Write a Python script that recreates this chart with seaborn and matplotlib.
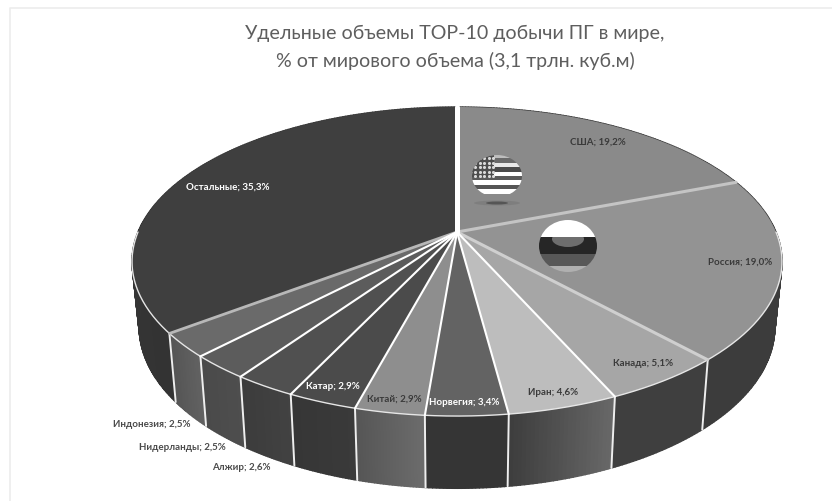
import numpy as np
import matplotlib
matplotlib.use("Agg")
import matplotlib.pyplot as plt
from matplotlib.patches import Ellipse, Rectangle
import seaborn as sns

categories = ["США", "Россия", "Канада", "Иран", "Норвегия", "Китай", "Катар",
              "Алжир", "Нидерланды", "Индонезия", "Остальные"]
values = [19.2, 19.0, 5.1, 4.6, 3.4, 2.9, 2.9, 2.6, 2.5, 2.5, 35.3]
title_lines = ["Удельные объемы TOP-10 добычи ПГ в мире,",
               "% от мирового объема (3,1 трлн. куб.м)"]

top_colors = ["#8a8a8a", "#939393", "#a6a6a6", "#bdbdbd", "#636363", "#8e8e8e",
              "#4b4b4b", "#505050", "#5c5c5c", "#6a6a6a", "#3f3f3f"]
wall_start = ["#3c3c3c", "#3c3c3c", "#3f3f3f", "#3e3e3e", "#353535", "#565656",
              "#363636", "#3c3c3c", "#4a4a4a", "#555555", "#333333"]
wall_end = ["#3c3c3c", "#3c3c3c", "#3f3f3f", "#686868", "#353535", "#6c6c6c",
            "#3a3a3a", "#424242", "#4e4e4e", "#626262", "#3c3c3c"]
label_xy = [(598, 142), (740, 262), (643, 364), (553, 393), (464, 403), (394, 399),
            (333, 387), (241, 468), (182, 448), (152, 425), (228, 187)]
label_color = ["#3a3a3a", "#3a3a3a", "#3a3a3a", "#3a3a3a", "white", "#3a3a3a",
               "white", "#4a4a4a", "#4a4a4a", "#4a4a4a", "white"]
# separator at the start of each wedge
sep_color = ["white", "#c4c4c4", "#cfcfcf", "white", "white", "white", "white",
             "white", "white", "white", "#b8b8b8"]
sep_width = [3.6, 2.2, 2.2, 1.5, 1.5, 1.5, 1.5, 1.5, 1.5, 1.5, 2.0]

sns.set_theme(style="white")
plt.rcParams["font.family"] = ["Lato", "Open Sans", "DejaVu Sans"]

CX, CY, A, B, K = 457.0, 233.0, 319.0, 148.9, 0.191


def project(theta):
    """Clockwise angle from 12 o'clock -> screen position of the top rim."""
    u, v = np.sin(theta), -np.cos(theta)
    d = 1 - K * v
    return CX + A * u / d, CY + B * v / d


def lower(x, y):
    dy = y - CY
    return CX + (x - CX) * 0.978, y + 64 + 0.045 * dy


fig = plt.figure(figsize=(8.32, 5.02), dpi=100)
ax = fig.add_axes([0, 0, 1, 1])
ax.set_xlim(0, 832)
ax.set_ylim(502, 0)
ax.axis("off")

# faint frame of the slide
ax.plot([10, 10, 832], [502, 9, 9], color="#ececec", lw=1.2, zorder=1)

edges = np.concatenate([[0], np.cumsum(values)]) / np.sum(values) * 2 * np.pi

# side wall, drawn as thin strips
for i in range(len(values)):
    t = np.linspace(edges[i], edges[i + 1], max(int(values[i] * 6), 24))
    x, y = project(t)
    xb, yb = lower(x, y)
    pal = sns.blend_palette([wall_start[i], wall_end[i]], len(t) - 1)
    pal = pal[::-1] if x[0] > x[-1] else pal
    for j in range(len(t) - 1):
        ax.fill([x[j], x[j + 1], xb[j + 1], xb[j]],
                [y[j], y[j + 1], yb[j + 1], yb[j]],
                color=pal[j], lw=1.0, zorder=2)

# vertical separators on the wall
for i in range(len(values)):
    x, y = project(edges[i])
    if -np.cos(edges[i]) > 0.05:
        xb, yb = lower(x, y)
        ax.plot([x, xb], [y, yb], color="#eeeeee", lw=1.4, zorder=3)

# top face
for i in range(len(values)):
    t = np.linspace(edges[i], edges[i + 1], 120)
    x, y = project(t)
    ax.fill(np.r_[CX, x], np.r_[CY, y], color=top_colors[i], lw=0, zorder=4)

# rim on the visible front
t = np.linspace(np.radians(90), np.radians(270), 300)
x, y = project(t)
ax.plot(x, y, color="#e6e6e6", lw=1.0, zorder=5)

# radial separators
for i in range(len(values)):
    x, y = project(edges[i])
    ax.plot([CX, x], [CY, y], color=sep_color[i], lw=sep_width[i],
            zorder=6 + (0.1 if sep_color[i] == "white" else 0), solid_capstyle="round")

# labels
for name, val, (lx, ly), col in zip(categories, values, label_xy, label_color):
    ax.text(lx, ly, f"{name}; {val:.1f}%".replace(".", ","), ha="center", va="center",
            fontsize=7.0, fontweight="bold", color=col, zorder=8)

# title
for line, ty in zip(title_lines, (33, 61)):
    ax.text(455, ty, line, ha="center", va="center", fontsize=14.1, color="#5e5e5e", zorder=8)


# flag badges
def badge(cx, cy, rx, ry):
    clip = Ellipse((cx, cy), 2 * rx, 2 * ry, transform=ax.transData, fc="none", ec="none", zorder=9)
    ax.add_patch(clip)
    return clip


clip = badge(497, 177, 25, 21)
stripe_shades = ["#bdbdbd", "#6a6a6a", "#e8e8e8", "#4a4a4a", "white", "#5a5a5a", "white",
                 "#555555", "white", "#8a8a8a"]
for k, c in enumerate(stripe_shades):
    h = 4.4
    r = Rectangle((472, 155 + k * h), 50, h, fc=c, ec="none", zorder=9)
    ax.add_patch(r)
    r.set_clip_path(clip)
r = Rectangle((472, 156), 22, 22, fc="#4c4c4c", ec="none", zorder=9.5)
ax.add_patch(r)
r.set_clip_path(clip)
star_x, star_y = np.meshgrid(np.arange(475, 494, 4.5), np.arange(159, 178, 4.5))
s = ax.scatter(star_x.ravel(), star_y.ravel(), s=5, color="#d8d8d8", lw=0, zorder=9.6)
s.set_clip_path(clip)
ax.add_patch(Ellipse((497, 204), 46, 5, fc="#777777", ec="none", alpha=0.6, zorder=8))
ax.add_patch(Ellipse((497, 204), 22, 3, fc="#444444", ec="none", alpha=0.7, zorder=8.1))

clip = badge(568, 247, 29, 26)
for y0, h, c in [(221, 17, "white"), (238, 17, "#262626"), (255, 12, "#585858"), (267, 6, "#b0b0b0")]:
    r = Rectangle((539, y0), 58, h, fc=c, ec="none", zorder=9)
    ax.add_patch(r)
    r.set_clip_path(clip)
r = Ellipse((568, 240), 32, 16, fc="#6e6e6e", ec="none", zorder=9.5)
ax.add_patch(r)
r.set_clip_path(Rectangle((539, 238), 58, 17, transform=ax.transData))

fig.savefig("out.png", dpi=100, facecolor="white")
